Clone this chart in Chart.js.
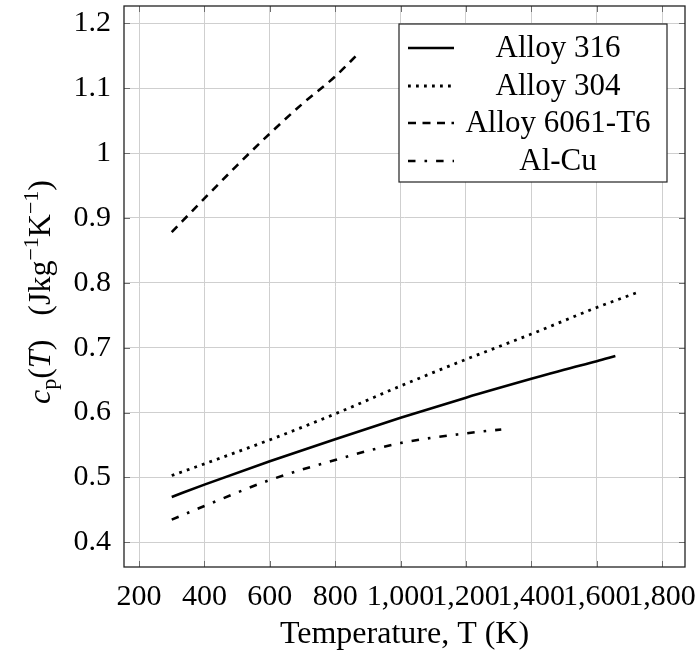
<!DOCTYPE html>
<html>
<head>
<meta charset="utf-8">
<script src="https://cdn.jsdelivr.net/npm/chart.js@4/dist/chart.umd.min.js"></script>
<style>
  html, body { margin: 0; padding: 0; background: #fff; }
  #wrap { width: 699px; height: 659px; }
</style>
</head>
<body>
<div id="wrap"><canvas id="cpGrafico" width="699" height="659"></canvas></div>
<script>
// temperatura (K) e calor especifico (J/kg/K)
const tempAlloy316 = [300, 400, 600, 800, 1000, 1200, 1400, 1500, 1600, 1657];
const cpAlloy316 = [0.470, 0.489, 0.525, 0.559, 0.592, 0.623, 0.652, 0.666, 0.679, 0.687];

const tempAlloy304 = [300, 400, 600, 800, 1000, 1200, 1400, 1600, 1724];
const cpAlloy304 = [0.503, 0.521, 0.558, 0.598, 0.641, 0.682, 0.721, 0.762, 0.785];

const tempAlloy6061 = [300, 400, 500, 600, 700, 800, 870];
const cpAlloy6061 = [0.878, 0.930, 0.981, 1.030, 1.076, 1.118, 1.153];

const tempAlCu = [300, 400, 600, 800, 1000, 1200, 1308];
const cpAlCu = [0.435, 0.456, 0.496, 0.527, 0.553, 0.568, 0.574];

const nomesSeries = ['Alloy 316', 'Alloy 304', 'Alloy 6061-T6', 'Al-Cu'];
const ticksX = [200, 400, 600, 800, 1000, 1200, 1400, 1600, 1800];
const ticksY = [0.4, 0.5, 0.6, 0.7, 0.8, 0.9, 1.0, 1.1, 1.2];

const fonte = "'Liberation Serif', 'Times New Roman', serif";
const corGrade = '#cfcfcf';

function pares(xs, ys) {
    return xs.map((x, i) => ({ x: x, y: ys[i] }));
}

function serie(label, xs, ys, dash, largura) {
    return {
        label: label,
        data: pares(xs, ys),
        borderColor: '#000',
        borderWidth: largura,
        borderDash: dash,
        borderCapStyle: 'butt',
        pointRadius: 0,
        fill: false,
        cubicInterpolationMode: 'monotone'
    };
}

// legenda, moldura, marcas e titulos desenhados a mao
const extras = {
    id: 'extras',
    afterDraw(chart) {
        const ctx = chart.ctx;
        const a = chart.chartArea;
        const sx = chart.scales.x, sy = chart.scales.y;
        ctx.save();

        // marcas de tick para dentro, nos quatro lados
        ctx.strokeStyle = '#6e6e6e';
        ctx.lineWidth = 1;
        ctx.beginPath();
        ticksX.forEach(t => {
            const px = Math.round(sx.getPixelForValue(t)) + 0.5;
            ctx.moveTo(px, a.bottom); ctx.lineTo(px, a.bottom - 6);
            ctx.moveTo(px, a.top); ctx.lineTo(px, a.top + 6);
        });
        ticksY.forEach(t => {
            const py = Math.round(sy.getPixelForValue(t)) + 0.5;
            ctx.moveTo(a.left, py); ctx.lineTo(a.left + 6, py);
            ctx.moveTo(a.right, py); ctx.lineTo(a.right - 6, py);
        });
        ctx.stroke();

        // moldura
        ctx.strokeStyle = '#222';
        ctx.lineWidth = 1.3;
        ctx.strokeRect(a.left, a.top, a.right - a.left, a.bottom - a.top);

        // legenda
        const lx = 399, ly = 24, lw = 268, lh = 158;
        ctx.fillStyle = '#fff';
        ctx.fillRect(lx, ly, lw, lh);
        ctx.strokeStyle = '#222';
        ctx.lineWidth = 1.2;
        ctx.strokeRect(lx, ly, lw, lh);
        const linhas = [48, 86, 123, 161];
        chart.data.datasets.forEach((ds, i) => {
            const y = linhas[i];
            ctx.strokeStyle = '#000';
            ctx.lineWidth = ds.borderWidth;
            ctx.lineCap = 'butt';
            ctx.setLineDash(ds.borderDash || []);
            ctx.beginPath();
            ctx.moveTo(408, y);
            ctx.lineTo(454, y);
            ctx.stroke();
            ctx.setLineDash([]);
            ctx.fillStyle = '#000';
            ctx.font = '31px ' + fonte;
            ctx.textAlign = 'center';
            ctx.textBaseline = 'middle';
            ctx.fillText(ds.label, 558, y + 1);
        });

        // titulo do eixo x
        ctx.fillStyle = '#000';
        ctx.font = '32px ' + fonte;
        ctx.textAlign = 'center';
        ctx.textBaseline = 'middle';
        ctx.fillText('Temperature, T (K)', (a.left + a.right) / 2, 635);

        // titulo do eixo y com indice e expoentes
        const partes = [
            { t: 'c', f: 'italic 32px ', dy: 0 },
            { t: 'p', f: '22px ', dy: 6 },
            { t: '(', f: '32px ', dy: 0 },
            { t: 'T', f: 'italic 32px ', dy: 0 },
            { t: ')   (Jkg', f: '32px ', dy: 0 },
            { t: '\u22121', f: '22px ', dy: -12 },
            { t: 'K', f: '32px ', dy: 0 },
            { t: '\u22121', f: '22px ', dy: -12 },
            { t: ')', f: '32px ', dy: 0 }
        ];
        let total = 0;
        partes.forEach(p => { ctx.font = p.f + fonte; p.w = ctx.measureText(p.t).width; total += p.w; });
        ctx.translate(40, 292);
        ctx.rotate(-Math.PI / 2);
        ctx.textAlign = 'left';
        ctx.textBaseline = 'alphabetic';
        let cx = -total / 2;
        partes.forEach(p => {
            ctx.font = p.f + fonte;
            ctx.fillText(p.t, cx, 10 + p.dy);
            cx += p.w;
        });
        ctx.restore();
    }
};

window.onload = function() {
    const ctx = document.getElementById('cpGrafico').getContext('2d');
    new Chart(ctx, {
        type: 'line',
        data: {
            datasets: [
                serie(nomesSeries[0], tempAlloy316, cpAlloy316, [], 2.6),
                serie(nomesSeries[1], tempAlloy304, cpAlloy304, [2.8, 5.2], 2.8),
                serie(nomesSeries[2], tempAlloy6061, cpAlloy6061, [8, 6.5], 2.6),
                serie(nomesSeries[3], tempAlCu, cpAlCu, [7.5, 9, 2.6, 9], 2.6)
            ]
        },
        options: {
            responsive: false,
            animation: false,
            layout: { padding: { left: 0, right: 14, top: 6, bottom: 0 } },
            plugins: {
                legend: { display: false },
                tooltip: { enabled: false }
            },
            scales: {
                x: {
                    type: 'linear',
                    min: 154,
                    max: 1870,
                    afterBuildTicks: s => { s.ticks = ticksX.map(v => ({ value: v })); },
                    afterFit: s => { s.height = 92; s.paddingLeft = 0; s.paddingRight = 0; },
                    grid: { color: corGrade, lineWidth: 1, drawTicks: false },
                    border: { display: false },
                    ticks: {
                        autoSkip: false,
                        maxRotation: 0,
                        padding: 12,
                        color: '#000',
                        font: { family: fonte, size: 30 },
                        callback: v => v.toLocaleString('en-US')
                    }
                },
                y: {
                    type: 'linear',
                    min: 0.362,
                    max: 1.2266,
                    afterBuildTicks: s => { s.ticks = ticksY.map(v => ({ value: v })); },
                    afterFit: s => { s.width = 124; s.paddingTop = 0; s.paddingBottom = 0; },
                    grid: { color: corGrade, lineWidth: 1, drawTicks: false },
                    border: { display: false },
                    ticks: {
                        padding: 13,
                        color: '#000',
                        font: { family: fonte, size: 30 },
                        callback: v => String(parseFloat(v.toFixed(1)))
                    }
                }
            }
        },
        plugins: [extras]
    });
};
</script>
</body>
</html>
